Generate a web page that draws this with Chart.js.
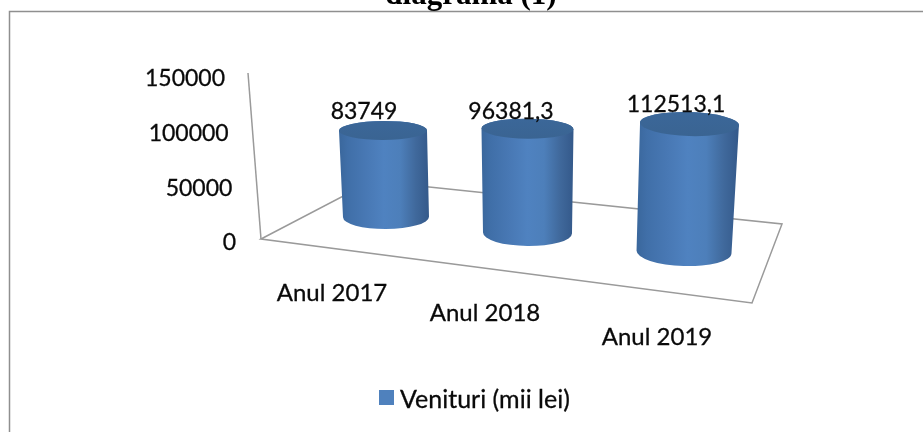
<!DOCTYPE html>
<html>
<head>
<meta charset="utf-8">
<script src="https://cdn.jsdelivr.net/npm/chart.js@4"></script>
<style>
html,body{margin:0;padding:0;background:#fff;overflow:hidden}
canvas{display:block}
</style>
</head>
<body>
<canvas id="c" width="923" height="432"></canvas>
<script>
const titleText = "diagrama (1)";
const categories = ["Anul 2017", "Anul 2018", "Anul 2019"];
const seriesName = "Venituri (mii lei)";
const seriesValues = [83749, 96381.3, 112513.1];
const axisMax = 150000;
const axisStep = 50000;

const FONT = 'Lato, "Open Sans", sans-serif';
const TEXT = "#0a0a0a";

// Pseudo-3D projection applied to each bar element
const view = [
  {dx: 9,   dy: -24, k: .945, lean: -3, rxB: 43,   ryB: 12, rxT: 44,   ryT: 9.5, rot: -.005, cat: [332, 293], val: [364, 112]},
  {dx: .5,  dy: -8,  k: .99,  lean: 0,  rxB: 44.5, ryB: 13, rxT: 46,   ryT: 10,  rot: .01,   cat: [485, 313], val: [511, 112]},
  {dx: 7,   dy: 11,  k: 1.04, lean: 5.5,rxB: 47.5, ryB: 14, rxT: 49.5, ryT: 12,  rot: .03,   cat: [657, 337], val: [676, 105]}
];

function bodyGradient(ctx, x0, x1) {
  const g = ctx.createLinearGradient(x0, 0, x1, 0);
  g.addColorStop(0, "#3a679c");
  g.addColorStop(.1, "#406fa8");
  g.addColorStop(.3, "#4878b4");
  g.addColorStop(.5, "#4f82c0");
  g.addColorStop(.68, "#4d7fba");
  g.addColorStop(.85, "#40699c");
  g.addColorStop(1, "#34598a");
  return g;
}

function label(ctx, s, x, y) {
  ctx.fillText(s, x, y);
  ctx.strokeText(s, x, y);
}

const scene = {
  id: "scene",
  beforeDatasetsDraw(chart) {
    const {ctx, scales: {y}} = chart;
    const x0 = chart.chartArea.left, y0 = y.getPixelForValue(0);
    ctx.save();
    ctx.fillStyle = "#fff";
    ctx.strokeStyle = "#8f8f8f";
    ctx.lineWidth = 1.5;
    // frame
    ctx.beginPath();
    ctx.moveTo(923, 11.5); ctx.lineTo(9.5, 11.5); ctx.lineTo(9.5, 432);
    ctx.stroke();
    // floor
    ctx.strokeStyle = "#9a9a9a";
    ctx.beginPath();
    ctx.moveTo(x0 - 41, y0 - 2);
    ctx.lineTo(x0 + 70, y0 - 60);
    ctx.lineTo(x0 + 480, y0 - 17);
    ctx.lineTo(x0 + 450, y0 + 62);
    ctx.closePath();
    ctx.stroke();
    // vertical axis
    ctx.beginPath();
    ctx.moveTo(x0 - 41, y0 - 2);
    ctx.lineTo(x0 - 54, y.getPixelForValue(axisMax) - 4);
    ctx.stroke();
    ctx.restore();
  },
  afterDatasetsDraw(chart) {
    const {ctx, scales: {y}} = chart;
    const bars = chart.getDatasetMeta(0).data;
    ctx.save();
    bars.forEach((bar, i) => {
      const v = view[i];
      const bx = bar.x + v.dx, by = bar.base + v.dy;
      const tx = bx + v.lean, ty = by - (bar.base - bar.y) * v.k;
      // body
      ctx.beginPath();
      ctx.moveTo(tx - v.rxT, ty);
      ctx.lineTo(bx - v.rxB, by);
      ctx.ellipse(bx, by, v.rxB, v.ryB, v.rot, Math.PI, 0, true);
      ctx.lineTo(tx + v.rxT, ty);
      ctx.ellipse(tx, ty, v.rxT, v.ryT, v.rot, 0, Math.PI, true);
      ctx.closePath();
      ctx.fillStyle = bodyGradient(ctx, Math.min(tx - v.rxT, bx - v.rxB), Math.max(tx + v.rxT, bx + v.rxB));
      ctx.fill();
      // top
      const g = ctx.createLinearGradient(0, ty - v.ryT, 0, ty + v.ryT);
      g.addColorStop(0, "#3b6799");
      g.addColorStop(1, "#3a6492");
      ctx.beginPath();
      ctx.ellipse(tx, ty, v.rxT, v.ryT, v.rot, 0, Math.PI * 2);
      ctx.fillStyle = g;
      ctx.fill();
    });
    // text
    ctx.fillStyle = TEXT;
    ctx.strokeStyle = TEXT;
    ctx.lineWidth = .3;
    ctx.font = "23px " + FONT;
    ctx.textBaseline = "middle";
    ctx.textAlign = "right";
    y.ticks.forEach((t, i) => {
      const px = y.getPixelForTick(i);
      label(ctx, String(t.value), 236 - 11 * t.value / axisMax, px + 2);
    });
    ctx.textAlign = "center";
    bars.forEach((bar, i) => {
      const v = view[i];
      label(ctx, String(seriesValues[i]).replace(".", ","), v.val[0], v.val[1]);
    });
    ctx.font = "24px " + FONT;
    bars.forEach((bar, i) => {
      const v = view[i];
      label(ctx, categories[i], v.cat[0], v.cat[1]);
    });
    // legend
    ctx.font = "25px " + FONT;
    ctx.textAlign = "left";
    label(ctx, seriesName, 400, 400);
    ctx.fillStyle = chart.data.datasets[0].legendColor;
    ctx.fillRect(379, 390, 15, 15);
    // title
    ctx.fillStyle = "#000";
    ctx.font = "bold 31px 'Liberation Serif', serif";
    ctx.textAlign = "center";
    ctx.textBaseline = "alphabetic";
    ctx.fillText(titleText, 471, 4);
    ctx.restore();
  }
};

new Chart(document.getElementById("c"), {
  type: "bar",
  data: {
    labels: categories,
    datasets: [{
      label: seriesName,
      data: seriesValues,
      backgroundColor: "rgba(0,0,0,0)",
      legendColor: "#4f81bd",
      categoryPercentage: 1,
      barPercentage: .6
    }]
  },
  options: {
    responsive: false,
    animation: false,
    events: [],
    layout: {padding: {left: 302, right: 171, top: 77, bottom: 191}},
    plugins: {legend: {display: false}, title: {display: false}, tooltip: {enabled: false}},
    scales: {
      x: {display: false},
      y: {display: false, min: 0, max: axisMax, ticks: {stepSize: axisStep}}
    }
  },
  plugins: [scene]
});
</script>
</body>
</html>
